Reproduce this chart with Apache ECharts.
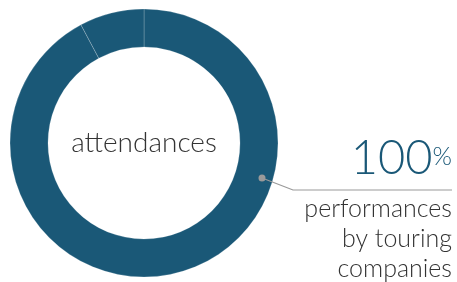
<!DOCTYPE html>
<html>
<head>
<meta charset="utf-8">
<script src="https://cdn.jsdelivr.net/npm/echarts@6/dist/echarts.min.js"></script>
<style>
  html, body { margin: 0; padding: 0; background: #fff; }
  #chart { width: 457px; height: 282px; }
</style>
</head>
<body>
<div id="chart"></div>
<script>
// data
const segmentNames = ['touring companies', 'other']
const segmentValues = [92.2, 7.8]
const centerLabel = 'attendances'
const calloutValue = '100'
const calloutLines = ['performances', 'by touring', 'companies']

const ringColor = '#1a5877'
const font = 'Lato, "Open Sans", sans-serif'

const chart = echarts.init(document.getElementById('chart'))

const option = {
  animation: false,
  series: [
    {
      type: 'pie',
      center: [144, 143],
      radius: [96, 134],
      startAngle: 90,
      clockwise: true,
      silent: true,
      label: { show: false },
      labelLine: { show: false },
      itemStyle: {
        color: ringColor,
        borderColor: 'rgba(255,255,255,0.35)',
        borderWidth: 0.6
      },
      data: segmentNames.map((n, i) => ({ name: n, value: segmentValues[i] }))
    }
  ],
  graphic: [
    {
      type: 'text',
      z: 100,
      style: {
        text: centerLabel,
        x: 144, y: 143,
        align: 'center', verticalAlign: 'middle',
        font: '300 28px ' + font,
        fill: '#333'
      }
    },
    {
      type: 'polyline',
      z: 100,
      shape: { points: [[262, 178], [293, 190], [452, 190]] },
      style: { stroke: '#999', lineWidth: 1.2, fill: null }
    },
    {
      type: 'circle',
      z: 101,
      shape: { cx: 262, cy: 178, r: 3.5 },
      style: { fill: '#9a9a9a' }
    },
    {
      type: 'text',
      z: 100,
      style: {
        x: 452, y: 182,
        align: 'right', verticalAlign: 'bottom',
        text: '{n|' + calloutValue + '}{p|%}',
        rich: {
          n: { font: '300 47px ' + font, fill: ringColor },
          p: { font: '300 25px ' + font, fill: ringColor, padding: [0, 0, 4, 0] }
        }
      }
    },
    ...calloutLines.map((t, i) => ({
      type: 'text',
      z: 100,
      style: {
        x: 452, y: 221 + i * 30,
        align: 'right', verticalAlign: 'bottom',
        text: t,
        font: '300 25px ' + font,
        fill: '#333'
      }
    }))
  ]
}

chart.setOption(option)
</script>
</body>
</html>
